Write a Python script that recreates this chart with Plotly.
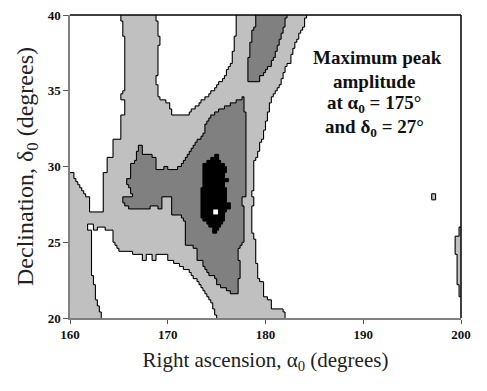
import numpy as np
import plotly.graph_objects as go

# ---- data: region outlines (RA deg, Dec deg) ----
W_LEFT = [(159, 41), (165.2, 41), (165.2, 39.5), (165.4, 39.5), (165.4, 38.5), (165.6, 38.5),
          (165.6, 37.8), (165.5, 37.8), (165.5, 35.0), (165.2, 34.8), (165.2, 34.3), (165.5, 34.3),
          (165.5, 33.3), (165.1, 33.3), (165.1, 31.7), (164.4, 31.7), (164.4, 30.6), (163.8, 30.6),
          (163.8, 29.5), (163.4, 29.5), (163.4, 27.0), (162.0, 27.0), (162.0, 27.9), (161.6, 28.0),
          (161.2, 28.5), (160.7, 28.9), (160.4, 29.3), (160.4, 29.5), (159, 29.5)]
W_U = [(168.7, 41), (168.7, 40), (169.0, 39.5), (169.0, 38.6), (169.3, 38.4), (169.0, 37.8),
       (169.0, 36.2), (168.8, 35.8), (168.8, 35.4), (169.0, 35.2), (169.0, 34.6), (169.5, 34.4),
       (170.1, 34.1), (170.3, 33.8), (170.6, 33.3), (171.8, 33.3), (172.3, 33.6), (173.3, 34.2),
       (174.0, 34.6), (175.0, 35.3), (175.7, 35.8), (176.2, 36.5), (176.5, 36.9), (176.7, 37.7),
       (176.9, 38.7), (177.0, 40), (177.0, 41)]
W_LOW = [(163.1, 19), (163.1, 20.3), (162.7, 21.2), (162.6, 22.0), (162.2, 23.0), (162.2, 25.7),
         (162.7, 25.7), (162.7, 25.96), (163.6, 25.96), (163.6, 25.7), (164.3, 25.7), (164.3, 25.0),
         (164.8, 24.8), (164.95, 24.47), (166.3, 24.47), (166.3, 24.14), (167.3, 24.14),
         (167.3, 23.7), (167.8, 23.7), (167.8, 24.14), (168.35, 24.14), (168.35, 23.7),
         (168.8, 23.7), (168.8, 24.14), (169.9, 24.14), (169.9, 23.9), (170.6, 23.7),
         (171.25, 23.5), (172.1, 23.1), (173.1, 22.4), (174.0, 21.6), (174.5, 20.9),
         (175.0, 20.0), (175.0, 19)]
W_RIGHT = [(184.2, 41), (184.2, 40), (183.9, 39.3), (183.4, 38.6), (182.9, 37.9), (182.5, 36.9),
           (182.0, 36.5), (181.6, 35.6), (181.0, 34.9), (180.5, 34.3), (180.3, 33.6), (180.0, 32.8),
           (179.8, 32.0), (179.4, 31.4), (179.3, 31.0), (178.9, 30.4), (178.75, 29.4),
           (178.75, 28.4), (178.5, 28.4), (178.5, 28.0), (178.75, 27.9), (178.6, 26.7),
           (178.6, 25.7), (178.9, 25.2), (178.9, 23.7), (179.1, 23.5), (179.1, 22.6),
           (179.8, 22.4), (179.8, 21.5), (180.6, 21.1), (180.6, 20.6), (181.7, 20.6),
           (182.0, 20.2), (182.0, 19), (201, 19), (201, 41)]
W_SQUARE = [(161.75, 25.75), (162.35, 25.75), (162.35, 26.25), (161.75, 26.25)]
L_STRIP = [(201, 25.94), (199.7, 25.94), (199.7, 25.48), (199.4, 25.48), (199.4, 24.16),
           (199.56, 24.16), (199.56, 22.18), (199.7, 22.18), (199.7, 21.4), (201, 21.4)]
L_TINY = [(197.05, 27.7), (197.3, 27.7), (197.3, 28.25), (197.05, 28.25)]
D_ARM = [(179.1, 41), (179.1, 40), (178.9, 39.3), (178.6, 39.0), (178.6, 38.3), (178.4, 38.0),
         (178.4, 37.3), (178.2, 37.0), (178.2, 35.6), (179.3, 35.6), (179.3, 35.9), (179.95, 36.2),
         (180.5, 36.7), (181.0, 37.3), (181.3, 38.0), (181.6, 38.6), (181.8, 38.9), (182.0, 39.5),
         (182.2, 40), (182.2, 41)]
D_MAIN = [(177.6, 34.5), (176.0, 33.95), (175.0, 33.6), (174.5, 33.4), (173.7, 32.7), (173.7, 32.2),
          (173.1, 31.75), (172.6, 31.3), (171.9, 30.7), (171.3, 30.1), (170.9, 29.75),
          (169.9, 29.75), (169.9, 30.0), (169.6, 30.0), (169.6, 29.75), (168.7, 29.75),
          (168.7, 30.5), (168.35, 30.7), (167.5, 30.7), (167.3, 31.4), (167.0, 31.5), (166.8, 30.7),
          (166.65, 30.2), (166.1, 30.2), (166.1, 29.3), (165.8, 29.2), (165.8, 28.85),
          (166.1, 28.5), (166.3, 28.1), (165.3, 27.9), (165.45, 27.55), (166.3, 27.2),
          (166.3, 27.1), (168.2, 27.1), (168.2, 27.3), (169.0, 27.3), (169.0, 27.1), (169.4, 27.1),
          (169.4, 27.9), (170.3, 27.9), (170.3, 26.7), (171.3, 26.7), (171.6, 26.5), (171.8, 26.1),
          (171.8, 24.8), (172.1, 24.8), (173.0, 24.6), (173.0, 23.9), (173.5, 23.7), (173.5, 23.5),
          (174.0, 23.2), (174.0, 23.0), (174.5, 22.8), (175.0, 22.6), (175.0, 22.3),
          (175.35, 22.15), (176.4, 21.7), (176.4, 21.65), (177.2, 21.65), (177.2, 22.6),
          (177.4, 22.8), (177.4, 23.7), (177.2, 23.9), (177.2, 24.5), (177.6, 24.8), (177.7, 25.0),
          (177.7, 27.3), (177.6, 27.3), (177.6, 28.0), (177.9, 28.0), (177.9, 33.6), (177.7, 33.6),
          (177.7, 34.5)]
B_CORE = [(174.85, 30.75), (175.1, 30.75), (175.1, 30.5), (175.35, 30.4), (175.7, 30.1),
          (176.0, 30.0), (176.0, 29.6), (175.85, 29.5), (175.85, 29.3), (176.1, 29.2),
          (176.1, 29.0), (175.85, 28.9), (175.85, 28.6), (176.0, 28.5), (176.0, 27.6),
          (176.3, 27.5), (176.3, 27.2), (176.0, 27.1), (175.7, 26.9), (175.7, 26.35),
          (175.4, 26.2), (175.2, 26.0), (175.0, 25.5), (174.5, 25.5), (174.5, 25.9),
          (174.0, 26.25), (173.5, 26.6), (173.3, 26.7), (173.3, 28.5), (173.6, 28.5),
          (173.6, 30.2), (174.0, 30.3), (174.3, 30.4), (174.6, 30.6), (174.85, 30.6)]
PEAK = [(174.56, 26.78), (175.24, 26.78), (175.24, 27.22), (174.56, 27.22)]

X_TICKS = [160, 170, 180, 190, 200]
Y_TICKS = [20, 25, 30, 35, 40]
NOTE_LINES = ["<b>Maximum peak</b>", "<b>amplitude</b>",
              "<b>at α<sub>0</sub> = 175°</b>", "<b>and δ<sub>0</sub> = 27°</b>"]

# ---- rasterise outlines onto the map grid ----
DX, DY = 0.2, 0.2
xc = np.arange(160 + DX / 2, 200, DX)
yc = np.arange(20 + DY / 2, 40, DY)
XX, YY = np.meshgrid(xc, yc)


def inside(poly):
    px = np.array([p[0] for p in poly], float)
    py = np.array([p[1] for p in poly], float)
    res = np.zeros(XX.shape, bool)
    n = len(poly)
    j = n - 1
    for i in range(n):
        xi, yi, xj, yj = px[i], py[i], px[j], py[j]
        if yi != yj:
            cond = ((yi > YY) != (yj > YY)) & (XX < (xj - xi) * (YY - yi) / (yj - yi) + xi)
            res ^= cond
        j = i
    return res


L = np.ones(XX.shape, int)
for poly in (W_LEFT, W_U, W_LOW, W_RIGHT, W_SQUARE):
    L[inside(poly)] = 0
for poly in (L_STRIP, L_TINY):
    L[inside(poly)] = 1
for poly in (D_ARM, D_MAIN):
    L[inside(poly)] = 2
L[inside(B_CORE)] = 3
L[inside(PEAK)] = 0

# ---- border segments between differing cells ----
sx, sy = [], []
ny, nx = L.shape
vd = L[:, 1:] != L[:, :-1]
for i in range(nx - 1):
    j = 0
    while j < ny:
        if vd[j, i]:
            k = j
            while k < ny and vd[k, i]:
                k += 1
            x = 160 + (i + 1) * DX
            sx += [x, x, None]
            sy += [20 + j * DY, 20 + k * DY, None]
            j = k
        else:
            j += 1
hd = L[1:, :] != L[:-1, :]
for j in range(ny - 1):
    i = 0
    while i < nx:
        if hd[j, i]:
            k = i
            while k < nx and hd[j, k]:
                k += 1
            y = 20 + (j + 1) * DY
            sx += [160 + i * DX, 160 + k * DX, None]
            sy += [y, y, None]
            i = k
        else:
            i += 1

fig = go.Figure()
fig.add_trace(go.Heatmap(
    x=xc, y=yc, z=L, zmin=-0.5, zmax=3.5, showscale=False, hoverinfo="skip",
    colorscale=[[0, "#ffffff"], [0.25, "#ffffff"], [0.25, "#c0c0c0"], [0.5, "#c0c0c0"],
                [0.5, "#808080"], [0.75, "#808080"], [0.75, "#000000"], [1, "#000000"]]))
fig.add_trace(go.Scatter(x=sx, y=sy, mode="lines", line=dict(color="#000000", width=1.1),
                         hoverinfo="skip", showlegend=False))

serif = "Liberation Serif"
note_x = [191.46, 191.05, 191.1, 191.2]
note_y = [37.2, 35.6, 34.15, 32.55]
for t, xa, ya in zip(NOTE_LINES, note_x, note_y):
    fig.add_annotation(x=xa, y=ya, text=t, showarrow=False, xanchor="center", yanchor="middle",
                       font=dict(family=serif, size=19, color="#111111"))

fig.add_shape(type="line", xref="paper", yref="paper", x0=0, x1=1, y0=1, y1=1,
              line=dict(color="#000000", width=1.5))
fig.add_shape(type="line", xref="paper", yref="paper", x0=1, x1=1, y0=0, y1=1,
              line=dict(color="#000000", width=1.5))

# the page body adds an 8 px offset, so the figure is sized 8 px smaller
fig.update_layout(
    width=479, height=383, margin=dict(l=62, r=26, t=7, b=73, autoexpand=False),
    paper_bgcolor="white", plot_bgcolor="white", showlegend=False,
    xaxis=dict(range=[160, 200], tickvals=X_TICKS, ticks="outside", ticklen=4,
               tickcolor="#555555", showline=True, linecolor="#808080", linewidth=1.5,
               showgrid=False, zeroline=False, automargin=False, ticklabeloverflow="allow",
               tickfont=dict(family=serif, size=13, color="#111111", weight="bold"),
               title=dict(text="Right ascension, α<sub>0</sub> (degrees)", standoff=11,
                          font=dict(family=serif, size=21, color="#222222"))),
    yaxis=dict(range=[20, 40], tickvals=Y_TICKS, ticks="outside", ticklen=5,
               tickcolor="#555555", showline=True, linecolor="#808080", linewidth=1.5,
               showgrid=False, zeroline=False, automargin=False, ticklabeloverflow="allow",
               tickfont=dict(family=serif, size=13, color="#111111", weight="bold"),
               title=dict(text="Declination, δ<sub>0</sub> (degrees)", standoff=7,
                          font=dict(family=serif, size=24, color="#222222"))),
)
fig.write_html("out.html")
